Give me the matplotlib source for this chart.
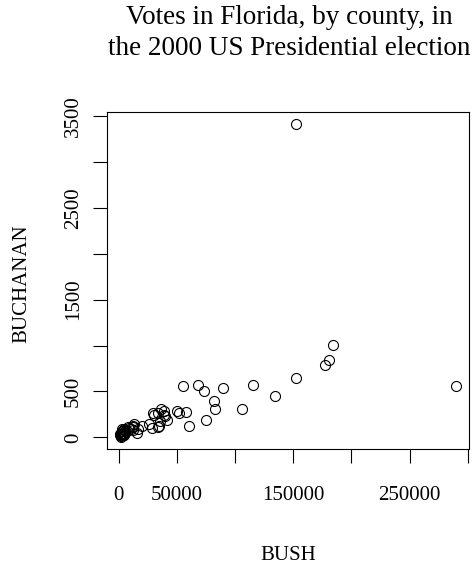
"""Florida 2000: Buchanan vs Bush votes by county."""

import matplotlib
matplotlib.use("Agg")
import matplotlib.pyplot as plt

plt.rcParams["font.family"] = ["Liberation Serif", "DejaVu Serif"]

# county order as in the original data file
COUNTIES = [
    "Alachua", "Baker", "Bay", "Bradford", "Brevard", "Broward", "Calhoun",
    "Charlotte", "Citrus", "Clay", "Collier", "Columbia", "Dade", "DeSoto",
    "Dixie", "Duval", "Escambia", "Flagler", "Franklin", "Gadsden",
    "Gilchrist", "Glades", "Gulf", "Hamilton", "Hardee", "Hendry",
    "Hernando", "Highlands", "Hillsborough", "Holmes", "Indian River",
    "Jackson", "Jefferson", "Lafayette", "Lake", "Lee", "Leon", "Levy",
    "Liberty", "Madison", "Manatee", "Marion", "Martin", "Monroe", "Nassau",
    "Okaloosa", "Okeechobee", "Orange", "Osceola", "Palm Beach", "Pasco",
    "Pinellas", "Polk", "Putnam", "St. Johns", "St. Lucie", "Santa Rosa",
    "Sarasota", "Seminole", "Sumter", "Suwannee", "Taylor", "Union",
    "Volusia", "Wakulla", "Walton", "Washington",
]
BUSH = [
    34124, 5610, 38637, 5414, 115185, 177323, 2873, 35426, 29767, 41736,
    60450, 10964, 289533, 4256, 2698, 152098, 73017, 12613, 2448, 4767,
    3300, 1841, 2546, 1419, 3765, 4747, 30646, 20206, 180760, 5011,
    28635, 9138, 2481, 1670, 50010, 106141, 39053, 6860, 1316, 3038,
    57948, 55135, 33864, 16059, 16404, 52186, 5058, 134531, 26212, 152846,
    68582, 184312, 90101, 13439, 39497, 34705, 36248, 83100, 75293, 12126,
    8014, 4051, 2326, 82214, 4511, 12176, 4983,
]
BUCHANAN = [
    263, 73, 248, 65, 570, 789, 90, 182, 270, 186,
    122, 89, 561, 36, 29, 650, 504, 83, 33, 38,
    29, 9, 71, 24, 30, 22, 242, 127, 847, 76,
    105, 102, 29, 10, 289, 305, 282, 67, 39, 29,
    272, 563, 108, 47, 90, 267, 43, 446, 145, 3407,
    570, 1010, 538, 147, 229, 124, 311, 305, 194, 114,
    108, 27, 37, 396, 46, 120, 88,
]

X_TICKS = [0, 50000, 100000, 150000, 200000, 250000, 300000]
X_LABELS = ["0", "50000", "", "150000", "", "250000", ""]
Y_TICKS = [0, 500, 1000, 1500, 2000, 2500, 3000, 3500]
Y_LABELS = ["0", "500", "", "1500", "", "2500", "", "3500"]

W, H = 473, 566
fig = plt.figure(figsize=(W / 100, H / 100), dpi=100)
ax = fig.add_axes([106.7 / W, 1 - 449 / H, (469 - 106.7) / W, (449 - 112) / H])

ax.plot(BUSH, BUCHANAN, "o", mfc="none", mec="black", ms=7.2, mew=0.8)

# R-style 4% padding around the data range
xr = max(BUSH) - min(BUSH)
yr = max(BUCHANAN) - min(BUCHANAN)
ax.set_xlim(min(BUSH) - 0.04 * xr, max(BUSH) + 0.04 * xr)
ax.set_ylim(min(BUCHANAN) - 0.04 * yr, max(BUCHANAN) + 0.04 * yr)

ax.set_xticks(X_TICKS)
ax.set_xticklabels(X_LABELS)
ax.set_yticks(Y_TICKS)
ax.set_yticklabels(Y_LABELS, rotation=90, va="center")
ax.tick_params(axis="both", direction="out", length=10, width=0.8,
               labelsize=15)
ax.tick_params(axis="x", pad=17)
ax.tick_params(axis="y", pad=7)
for s in ax.spines.values():
    s.set_linewidth(0.8)

ax.set_xlabel("BUSH", fontsize=15)
ax.xaxis.set_label_coords(0.5, (449 - 555) / 337)
ax.xaxis.label.set_va("center")
ax.set_ylabel("BUCHANAN", fontsize=15)
ax.yaxis.set_label_coords((22 - 106.7) / 362.3, 0.49)
ax.yaxis.label.set_va("center")

fig.text(289 / W, 1 - 33 / H,
         "Votes in Florida, by county, in\nthe 2000 US Presidential election",
         ha="center", va="center", fontsize=19.5, linespacing=1.33)

fig.savefig("out.png", dpi=100)
